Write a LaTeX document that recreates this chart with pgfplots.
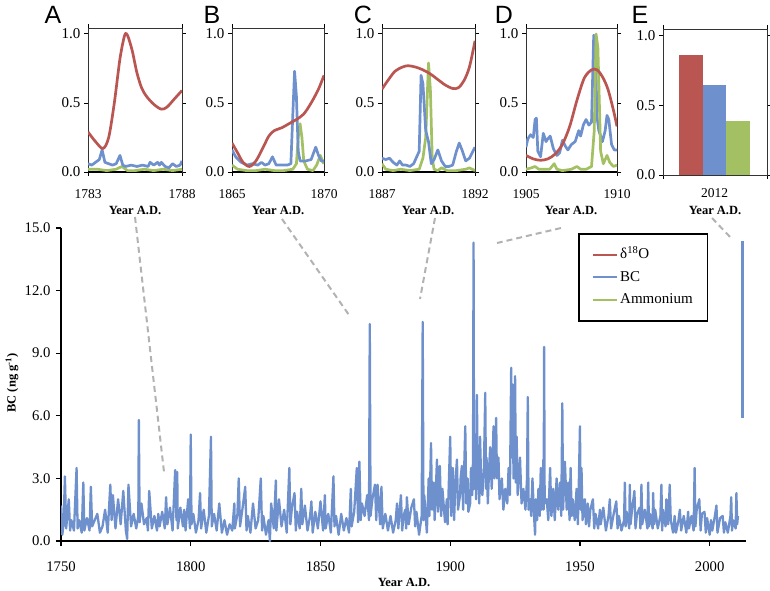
\documentclass[border=0pt]{standalone}
\usepackage{fontspec}
\setmainfont{Liberation Serif}
\newfontfamily\letterfont{Liberation Sans}
\usepackage{pgfplots}
\pgfplotsset{compat=1.18}
\definecolor{dred}{RGB}{186,86,82}
\definecolor{dblue}{RGB}{110,145,205}
\definecolor{dgreen}{RGB}{163,192,98}
\definecolor{dgray}{RGB}{178,178,178}
\pgfplotsset{
  inset/.style={scale only axis, anchor=south west, height=144pt,
    ymin=0, ymax=1.043, ytick={0,0.5,1},
    tick align=outside, major tick length=4pt,
    axis line style={line width=0.8pt, black!80},
    every tick/.style={line width=0.9pt, black},
    xticklabel shift=10pt,
    /pgf/number format/assume math mode=true,
    yticklabel style={font=\rmfamily\fontsize{15}{16}\selectfont, /pgf/number format/.cd, fixed, fixed zerofill, precision=1},
    xticklabel style={font=\rmfamily\fontsize{13.5}{15}\selectfont, /pgf/number format/1000 sep={}},
    every axis plot/.append style={line width=2.7pt, line join=round}}
}
\begin{document}
\begin{tikzpicture}[x=1pt,y=1pt]
\path[use as bounding box] (0,0) rectangle (770,590);

% ---------------- main axis ----------------
\begin{axis}[scale only axis, anchor=south west, at={(61pt,49pt)},
  width=685pt, height=313pt,
  xmin=1750, xmax=2014, ymin=0, ymax=15,
  axis x line*=bottom, axis y line*=left,
  axis line style={line width=1.3pt},
  every tick/.style={line width=1.2pt, black},
  tick align=outside, major tick length=5pt,
  xtick={1750,1800,1850,1900,1950,2000},
  ytick={0,3,6,9,12,15},
  ticklabel style={font=\rmfamily\fontsize{14.7}{16}\selectfont},
  xticklabel shift=12pt, yticklabel shift=2pt,
  /pgf/number format/assume math mode=true,
  yticklabel style={/pgf/number format/.cd, fixed, fixed zerofill, precision=1},
  xticklabel style={/pgf/number format/1000 sep={}},
  legend style={at={(rel axis cs:0.755,0.984)}, anchor=north west,
    draw=black, line width=1.5pt, inner xsep=13pt, inner ysep=12pt,
    row sep=4.5pt, font=\fontsize{15}{16}\selectfont,
    nodes={text height=11pt, text depth=3pt}},
  legend cell align=left,
  legend image code/.code={\draw[#1] (0pt,0pt) -- (20pt,0pt); \path (0pt,0pt) -- (24pt,0pt);}
]
\addlegendimage{dred, line width=1.5pt}
\addlegendentry{δ\textsuperscript{18}O}
\addplot[dblue, line width=2.3pt, line join=round] coordinates {
(1750,1.7)(1750.5,0.3)(1751,0.8)(1751.5,3.1)(1752,0.6)(1753,2.0)(1753.5,0.5)(1754,1.0)(1755,0.5)(1756,3.5)(1756.4,0.6)(1757,1.0)(1758,0.4)(1758.6,2.8)(1759,0.5)(1760,1.1)(1761,0.5)(1761.5,2.6)(1762,0.7)(1763,1.0)(1764,1.3)(1765,0.4)(1766,0.7)(1767,1.5)(1768,0.4)(1769,2.7)(1769.5,1.0)(1770,2.2)(1771,0.6)(1772,2.0)(1773,0.8)(1774,2.4)(1775,0.5)(1775.5,0.1)(1776,2.7)(1777,0.7)(1778,1.3)(1779,0.6)(1779.8,1.2)(1780,5.8)(1780.3,0.9)(1781,1.8)(1782,0.8)(1783,1.1)(1783.5,0.5)(1784,2.4)(1785,0.6)(1786,1.2)(1787,0.5)(1787.5,1.3)(1788,0.7)(1789,1.4)(1790,0.6)(1790.5,2.1)(1791,0.8)(1792,1.6)(1793,0.5)(1794,3.4)(1794.5,1.0)(1794.8,3.3)(1795,0.6)(1796,1.6)(1797,0.7)(1797.5,1.5)(1798,0.5)(1799,2.0)(1799.7,0.6)(1800,5.1)(1800.3,0.8)(1801,1.3)(1802,0.4)(1803,1.0)(1803.6,2.3)(1804,0.6)(1805,1.5)(1806,0.4)(1807,1.2)(1807.8,5.0)(1808.1,0.7)(1809,1.3)(1810,0.5)(1811,1.8)(1812,0.4)(1813,1.0)(1814,0.3)(1815,0.8)(1816,0.5)(1816.8,1.8)(1817,0.6)(1818,1.3)(1818.5,3.0)(1819,0.7)(1820,1.6)(1821,2.6)(1821.5,0.5)(1822,1.2)(1823,0.4)(1824,1.8)(1825,0.6)(1826,1.0)(1827,3.0)(1827.5,0.5)(1828,1.2)(1829,0.3)(1830,1.0)(1830.5,0.0)(1831,1.8)(1832,0.6)(1832.8,2.9)(1833,0.5)(1834,2.0)(1835,0.7)(1836,1.5)(1837,0.4)(1838,3.5)(1838.4,0.8)(1839,1.6)(1840,2.3)(1840.5,0.5)(1841,1.4)(1842,0.6)(1842.6,2.5)(1843,0.8)(1844,1.7)(1845,0.5)(1846,1.2)(1846.5,1.9)(1847,0.4)(1848,1.4)(1849,0.6)(1850,1.9)(1851,0.5)(1851.7,2.2)(1852,0.6)(1853,1.3)(1854,0.4)(1855,3.1)(1855.4,0.7)(1856,1.2)(1857,0.3)(1858,1.3)(1859,0.5)(1860,1.1)(1861,0.4)(1861.7,2.5)(1862,0.7)(1863,1.4)(1864,3.5)(1864.5,0.9)(1865,3.8)(1865.5,1.0)(1866,1.8)(1867,1.2)(1868,2.2)(1868.7,1.0)(1869,10.4)(1869.3,1.2)(1870,2.0)(1871,2.7)(1871.5,1.0)(1872,2.7)(1873,0.8)(1873.5,2.6)(1874,0.6)(1875,1.3)(1876,0.5)(1877,1.2)(1878,0.4)(1879,1.0)(1879.5,1.8)(1880,0.6)(1881,2.2)(1881.5,0.5)(1882,1.2)(1882.7,1.5)(1883,0.6)(1883.3,2.1)(1884,0.8)(1885,1.6)(1886,2.0)(1886.5,0.7)(1887,1.4)(1888,0.3)(1889,1.2)(1889.4,10.5)(1889.7,1.0)(1890,2.2)(1891,0.4)(1891.7,3.0)(1892,1.2)(1892.6,4.7)(1893,1.5)(1893.6,2.8)(1894,1.0)(1894.9,3.9)(1895.3,1.4)(1896,3.6)(1896.5,1.2)(1897,2.5)(1898,0.9)(1898.7,2.0)(1899,0.8)(1900,5.0)(1900.4,1.2)(1901,3.5)(1901.5,1.0)(1902,2.8)(1902.6,3.9)(1903,1.5)(1903.8,2.2)(1904,3.0)(1904.5,3.6)(1905,1.5)(1905.8,5.5)(1906.2,1.8)(1906.7,3.0)(1907,1.4)(1907.7,1.8)(1908,3.5)(1908.5,2.2)(1908.8,4.0)(1909,14.3)(1909.2,2.5)(1909.6,4.0)(1910,2.0)(1910.3,7.0)(1910.6,2.5)(1910.9,4.5)(1911.2,1.8)(1911.5,5.0)(1912,2.5)(1912.4,2.2)(1913,3.5)(1913.5,7.1)(1913.8,2.5)(1914,4.0)(1914.5,1.8)(1915,3.5)(1915.4,4.5)(1916,2.5)(1916.7,5.5)(1917,3.0)(1917.7,5.9)(1918,3.0)(1918.6,4.0)(1919,2.0)(1919.9,3.0)(1920.5,1.5)(1921.2,2.5)(1922,1.8)(1922.5,3.5)(1923,2.2)(1923.5,8.3)(1923.8,4.0)(1924.1,7.5)(1924.4,3.0)(1924.6,5.0)(1924.8,3.0)(1925,7.9)(1925.3,2.8)(1925.6,5.0)(1926,2.2)(1926.9,4.0)(1927.5,1.8)(1928.2,2.5)(1929,1.5)(1929.6,3.0)(1929.9,6.9)(1930.2,1.5)(1930.8,2.0)(1931.2,1.2)(1931.7,3.0)(1932.2,1.5)(1932.7,0.3)(1933,2.0)(1933.5,1.0)(1934,2.5)(1934.5,1.2)(1934.9,3.5)(1935.3,1.5)(1935.9,3.9)(1936.0,1.5)(1936.2,9.3)(1936.4,1.8)(1937.2,2.0)(1937.8,1.0)(1938.5,3.5)(1939,1.2)(1939.7,2.5)(1940.3,1.0)(1941,3.0)(1941.6,1.5)(1942.3,2.8)(1942.8,1.2)(1943.2,6.6)(1943.5,1.5)(1944.2,3.8)(1944.9,1.5)(1945.5,2.8)(1946,1.0)(1946.4,3.5)(1946.8,1.2)(1947.2,2.0)(1948,1.0)(1948.7,2.5)(1949.2,0.8)(1949.6,3.0)(1950,5.5)(1950.3,1.5)(1950.6,3.5)(1951,1.0)(1951.9,2.0)(1952.3,0.8)(1953,1.8)(1953.5,0.7)(1954,1.5)(1955,2.0)(1955.5,0.6)(1956,1.3)(1957,0.6)(1957.7,1.5)(1958,0.8)(1959,1.6)(1960,0.5)(1961,1.2)(1961.5,2.0)(1962,0.6)(1963,1.3)(1964,1.9)(1964.5,0.6)(1965,1.2)(1966,0.5)(1967,1.0)(1967.3,2.8)(1967.6,0.7)(1968,1.4)(1969,0.6)(1969.2,2.7)(1969.5,0.8)(1970,1.4)(1971,2.4)(1971.4,0.6)(1972,1.3)(1973,1.6)(1973.3,0.6)(1973.7,2.7)(1974,0.8)(1975,1.5)(1976,0.6)(1976.3,2.8)(1976.6,0.7)(1977,1.3)(1978,0.6)(1978.2,2.3)(1978.6,0.8)(1979,1.5)(1980,0.6)(1981,1.2)(1981.4,2.7)(1981.7,0.5)(1982,1.5)(1983,0.7)(1983.3,2.0)(1984,0.8)(1984.6,2.7)(1985,1.0)(1985.9,0.4)(1986.5,1.2)(1987,0.4)(1988,1.0)(1988.5,1.5)(1989,0.5)(1990,1.2)(1991,0.4)(1991.7,1.4)(1992,0.6)(1993,1.2)(1993.8,0.5)(1994.2,3.5)(1994.5,0.7)(1995,1.5)(1996,2.0)(1996.5,0.5)(1997,1.3)(1998,1.4)(1998.5,0.4)(1999,1.1)(2000,0.3)(2000.5,1.0)(2001,0.5)(2002,1.2)(2002.6,1.7)(2003,0.4)(2004,1.1)(2005,1.2)(2005.5,0.4)(2006,0.9)(2007,0.4)(2008,1.2)(2008.3,2.1)(2008.6,0.5)(2009,1.0)(2010,0.6)(2010.3,2.3)(2010.6,0.8)(2010.9,1.2)
};
\addlegendentry{BC}
\addlegendimage{dgreen, line width=1.5pt}
\addlegendentry{Ammonium}
\addplot[dblue, line width=2.3pt, forget plot] coordinates {(2012.7,5.9)(2012.7,14.4)};
\end{axis}

% ---------------- inset A ----------------
\begin{axis}[inset, at={(88pt,418pt)}, width=94pt, xmin=1783, xmax=1788, xtick={1783,1788}]
\addplot[black, line width=1.6pt] coordinates {(1783,0)(1788,0)};
\addplot[dgreen] coordinates {(1783,0.02)(1783.5,0.02)(1784,0.01)(1784.5,0.02)(1784.8,0.04)(1785.1,0.01)(1785.5,0.01)(1786,0.02)(1786.5,0.01)(1787,0.02)(1787.5,0.01)(1788,0.02)};
\addplot[dblue] coordinates {(1783,0.06)(1783.2,0.05)(1783.4,0.07)(1783.6,0.09)(1783.75,0.16)(1783.9,0.07)(1784.1,0.06)(1784.3,0.05)(1784.5,0.06)(1784.7,0.12)(1784.85,0.05)(1785.0,0.04)(1785.3,0.05)(1785.6,0.04)(1785.9,0.05)(1786.2,0.04)(1786.3,0.07)(1786.5,0.05)(1786.7,0.07)(1786.8,0.05)(1786.9,0.07)(1787.1,0.04)(1787.3,0.03)(1787.5,0.06)(1787.7,0.04)(1787.9,0.05)(1788,0.08)};
\addplot[dred, smooth] coordinates {(1783,0.29)(1783.4,0.22)(1783.8,0.17)(1784.1,0.25)(1784.4,0.5)(1784.7,0.82)(1784.95,0.99)(1785.1,0.99)(1785.35,0.88)(1785.6,0.72)(1785.85,0.61)(1786.1,0.55)(1786.5,0.49)(1786.9,0.455)(1787.2,0.47)(1787.6,0.53)(1788,0.59)};
\end{axis}

% ---------------- inset B ----------------
\begin{axis}[inset, at={(232pt,418pt)}, width=92pt, xmin=1865, xmax=1870, xtick={1865,1870}]
\addplot[black, line width=1.6pt] coordinates {(1865,0)(1870,0)};
\addplot[dgreen] coordinates {(1865,0.05)(1865.3,0.02)(1865.8,0.01)(1866.3,0.01)(1866.8,0.02)(1867.3,0.01)(1867.8,0.01)(1868.3,0.02)(1868.5,0.06)(1868.6,0.25)(1868.7,0.35)(1868.8,0.25)(1868.9,0.08)(1869.1,0.02)(1869.4,0.01)(1869.6,0.05)(1869.8,0.12)(1869.95,0.07)(1870,0.06)};
\addplot[dblue] coordinates {(1865,0.16)(1865.2,0.11)(1865.5,0.07)(1865.8,0.05)(1866.1,0.06)(1866.4,0.05)(1866.6,0.07)(1866.8,0.05)(1867.0,0.06)(1867.2,0.11)(1867.4,0.05)(1867.7,0.05)(1868.0,0.05)(1868.2,0.06)(1868.3,0.4)(1868.4,0.73)(1868.5,0.55)(1868.6,0.15)(1868.7,0.08)(1869.0,0.08)(1869.3,0.09)(1869.55,0.18)(1869.7,0.12)(1869.85,0.08)(1870,0.08)};
\addplot[dred, smooth] coordinates {(1865,0.21)(1865.3,0.14)(1865.6,0.07)(1865.95,0.04)(1866.3,0.08)(1866.7,0.18)(1867.0,0.26)(1867.3,0.30)(1867.7,0.32)(1868.1,0.35)(1868.5,0.38)(1868.9,0.42)(1869.3,0.5)(1869.7,0.6)(1870,0.70)};
\end{axis}

% ---------------- inset C ----------------
\begin{axis}[inset, at={(382pt,418pt)}, width=93pt, xmin=1887, xmax=1892, xtick={1887,1892}]
\addplot[black, line width=1.6pt] coordinates {(1887,0)(1892,0)};
\addplot[dgreen] coordinates {(1887,0.06)(1887.2,0.02)(1887.6,0.01)(1888,0.02)(1888.5,0.01)(1889.0,0.02)(1889.2,0.1)(1889.35,0.25)(1889.5,0.79)(1889.6,0.6)(1889.7,0.1)(1889.8,0.02)(1890.0,0.01)(1890.2,0.03)(1890.5,0.01)(1891.0,0.01)(1891.5,0.02)(1891.7,0.03)(1892,0.01)};
\addplot[dblue] coordinates {(1887,0.10)(1887.2,0.09)(1887.4,0.10)(1887.6,0.07)(1887.8,0.05)(1887.95,0.08)(1888.1,0.05)(1888.3,0.05)(1888.5,0.04)(1888.7,0.06)(1888.9,0.12)(1889.0,0.15)(1889.1,0.70)(1889.2,0.64)(1889.35,0.3)(1889.5,0.22)(1889.65,0.06)(1889.8,0.09)(1890.0,0.16)(1890.2,0.08)(1890.4,0.04)(1890.6,0.04)(1890.8,0.05)(1891.0,0.15)(1891.15,0.21)(1891.3,0.16)(1891.5,0.08)(1891.7,0.10)(1891.85,0.14)(1892,0.18)};
\addplot[dred, smooth] coordinates {(1887,0.60)(1887.3,0.66)(1887.7,0.73)(1888.1,0.76)(1888.4,0.77)(1888.8,0.76)(1889.2,0.74)(1889.6,0.71)(1890.0,0.67)(1890.4,0.63)(1890.8,0.605)(1891.1,0.61)(1891.4,0.66)(1891.7,0.76)(1892,0.95)};
\end{axis}

% ---------------- inset D ----------------
\begin{axis}[inset, at={(526pt,418pt)}, width=91pt, xmin=1905, xmax=1910, xtick={1905,1910}]
\addplot[black, line width=1.6pt] coordinates {(1905,0)(1910,0)};
\addplot[dblue] coordinates {(1905,0.18)(1905.1,0.24)(1905.25,0.27)(1905.4,0.25)(1905.5,0.38)(1905.57,0.39)(1905.65,0.15)(1905.8,0.11)(1905.95,0.28)(1906.1,0.22)(1906.2,0.24)(1906.33,0.26)(1906.5,0.17)(1906.7,0.12)(1906.85,0.14)(1907.0,0.23)(1907.15,0.19)(1907.3,0.16)(1907.5,0.2)(1907.7,0.22)(1907.9,0.3)(1908.0,0.26)(1908.15,0.34)(1908.3,0.38)(1908.45,0.34)(1908.6,0.36)(1908.72,0.99)(1908.8,0.98)(1908.9,0.4)(1909.0,0.3)(1909.2,0.22)(1909.35,0.3)(1909.45,0.41)(1909.55,0.38)(1909.7,0.2)(1909.85,0.16)(1910,0.16)};
\addplot[dgreen] coordinates {(1905,0.02)(1905.3,0.03)(1905.5,0.04)(1905.7,0.02)(1906.0,0.02)(1906.3,0.02)(1906.55,0.06)(1906.7,0.02)(1907.0,0.01)(1907.5,0.02)(1907.8,0.04)(1908.0,0.02)(1908.3,0.02)(1908.6,0.04)(1908.75,0.3)(1908.85,1.0)(1908.95,0.9)(1909.1,0.15)(1909.25,0.06)(1909.45,0.12)(1909.6,0.07)(1909.8,0.04)(1910,0.05)};
\addplot[dred, smooth] coordinates {(1905,0.12)(1905.4,0.095)(1905.8,0.085)(1906.2,0.095)(1906.6,0.13)(1907.0,0.2)(1907.4,0.33)(1907.8,0.52)(1908.2,0.68)(1908.6,0.74)(1908.9,0.74)(1909.2,0.69)(1909.5,0.6)(1909.8,0.45)(1910,0.33)};
\end{axis}

% ---------------- inset E ----------------
\begin{axis}[inset, at={(663pt,415pt)}, width=104pt, height=146pt, ymax=1.05,
  xmin=-2.19, xmax=2.23, xtick={-2.19,2.23}, xticklabels={,},
  extra x ticks={0}, extra x tick labels={2012},
  extra x tick style={major tick length=0pt},
  ybar, bar width=1]
\addplot[fill=dred, draw=none, bar shift=0pt] coordinates {(-1,0.86)};
\addplot[fill=dblue, draw=none, bar shift=0pt] coordinates {(0,0.65)};
\addplot[fill=dgreen, draw=none, bar shift=0pt] coordinates {(1,0.39)};
\end{axis}

% ---------------- connectors ----------------
\begin{scope}[dgray, line width=2pt, dash pattern=on 6pt off 4pt]
\draw (135,373) -- (164,118);
\draw (282,371) -- (349,275);
\draw (435,372) -- (420,291);
\draw (561,362) -- (497,347);
\draw (712,372) -- (732,351);
\end{scope}

% ---------------- labels ----------------
\begin{scope}[font=\letterfont\fontsize{25}{25}\selectfont]
\node at (53,575) {A};
\node at (212,575) {B};
\node at (363,575) {C};
\node at (504,575) {D};
\node at (640,575) {E};
\end{scope}
\begin{scope}[font=\bfseries\fontsize{12.5}{14}\selectfont]
\node at (135,380) {Year A.D.};
\node at (278,380) {Year A.D.};
\node at (428,380) {Year A.D.};
\node at (571,380) {Year A.D.};
\node at (715,380) {Year A.D.};
\node at (404,8) {Year A.D.};
\node[rotate=90] at (12,207) {BC (ng g\textsuperscript{-1})};
\end{scope}
\end{tikzpicture}
\end{document}
